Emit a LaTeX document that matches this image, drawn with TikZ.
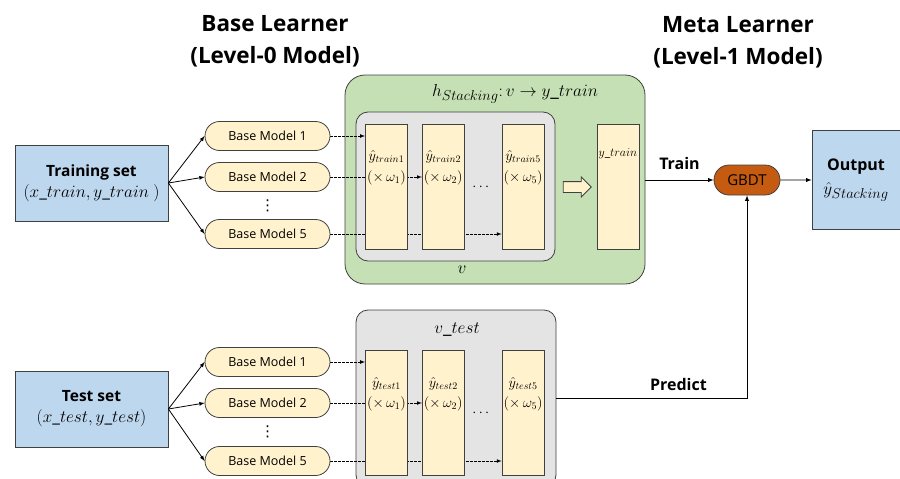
\documentclass[tikz,border=0pt]{standalone}
\usepackage{amsmath,amssymb}
\usepackage{fontspec}
\setmainfont{Open Sans}
\newfontfamily\symfont{DejaVu Sans}
\usetikzlibrary{positioning, shapes, arrows}
\tikzset{>=latex}
\definecolor{myblue}{RGB}{189, 215, 238}
\definecolor{myyellow}{RGB}{255, 242, 204}
\definecolor{mygreen}{RGB}{197, 224, 180}
\definecolor{mygray}{RGB}{228, 228, 228}
\definecolor{myorange}{RGB}{197, 90, 17}
\definecolor{myedge}{RGB}{64, 64, 64}
\pgfdeclarelayer{back}
\pgfdeclarelayer{mid}
\pgfsetlayers{back,mid,main}
\tikzset{
  setbox/.style={draw=myedge, fill=myblue, line width=0.8pt, minimum width=153pt, minimum height=76pt, align=center, inner sep=0pt, font=\fontsize{17}{21}\selectfont},
  basemodel/.style={draw=myedge, fill=myyellow, rounded rectangle, line width=0.8pt, minimum width=125pt, minimum height=29pt, inner sep=0pt, font=\fontsize{12.5}{14}\selectfont},
  colbox/.style={draw=myedge, fill=myyellow, line width=0.8pt, minimum width=42pt, minimum height=125pt, inner sep=0pt},
  collabel/.style={inner sep=0pt, font=\fontsize{14.5}{16}\selectfont},
  dasharrow/.style={->, line width=0.7pt, dash pattern=on 2.5pt off 1.5pt},
  titletext/.style={align=center, font=\fontsize{22.5}{32}\selectfont\bfseries},
  flowlabel/.style={font=\fontsize{16}{18}\selectfont\bfseries},
  mathlabel/.style={font=\fontsize{19}{22}\selectfont},
  vdotsnode/.style={inner sep=0pt, font=\symfont\fontsize{15}{15}\selectfont}
}

\begin{document}
\begin{tikzpicture}[x=1pt, y=-1pt]
\clip (0,0) rectangle (900,479);
\node[titletext] (lvl0) at (275,41) {Base Learner\\(Level-0 Model)};
\node[titletext] (lvl1) at (738,42) {Meta Learner\\(Level-1 Model)};

% training data
\node[setbox] (trainset) at (91.5,183) {{\fontsize{15.5}{21}\selectfont\bfseries Training set}\\$(x\_train, y\_train\ )$};
\foreach \i/\y in {1/136, 2/177, 5/234} {
  \node[basemodel] (tr\i) at (267.5,\y) {Base Model \i};
  \draw[->, line width=0.8pt] (trainset.east) -- (tr\i.west);
}
\node[vdotsnode] (trdots) at (267.5,206) {⋮};

\node[colbox] (ctr1) at (386.5,186.5) {};
\node[colbox, right=14pt of ctr1] (ctr2) {};
\node[colbox, right=37pt of ctr2] (ctr5) {};
\node[colbox, right=52pt of ctr5] (ytr) {};
\foreach \k in {1,2,5} {
  \node[collabel] at ([yshift=-33pt]ctr\k.north) {$\hat{y}_{train\k}$};
  \node[collabel] at ([yshift=-54pt]ctr\k.north) {$(\times\,\omega_{\k})$};
}
\node[collabel] (ctrdots) at (482,187) {$\cdots$};
\node[collabel, font=\fontsize{12}{13}\selectfont] at ([yshift=-30pt]ytr.north) {$y\_train$};
\node[single arrow, draw=myedge, fill=myyellow, line width=0.8pt, inner xsep=0pt, inner ysep=5pt, minimum height=28pt, single arrow head extend=4.5pt] (toy) at (574.5,187) {};

\begin{pgfonlayer}{back}
\node[draw=myedge, fill=mygreen, line width=0.8pt, rounded corners=20pt, minimum width=300pt, minimum height=209pt] (hbox) at (495,179.5) {};
\node[draw=myedge, fill=mygray, line width=0.8pt, rounded corners=12pt, minimum width=199pt, minimum height=149pt] (vbox) at (455.5,186.5) {};
\end{pgfonlayer}
\node[mathlabel] (hlabel) at (515,94) {$h_{Stacking}{:}\,v \rightarrow y\_train$};
\node[mathlabel] (vlabel) at (462,270) {$v$};

\begin{pgfonlayer}{mid}
\draw[dasharrow] (tr1.east) -- (tr1.east -| ctr1.west);
\draw[dasharrow] (tr2.east) -- (tr2.east -| ctr2.west);
\draw[dasharrow] (tr5.east) -- (tr5.east -| ctr5.west);
\end{pgfonlayer}

% meta learner
\node[rounded rectangle, draw=myedge, fill=myorange, line width=0.8pt, minimum width=66pt, minimum height=30pt, inner sep=0pt, font=\fontsize{15}{16}\selectfont] (gbdt) at (747,180) {GBDT};
\node[setbox, minimum width=88pt, minimum height=99pt, font=\fontsize{19}{24}\selectfont] (output) at (856,180) {{\fontsize{16}{24}\selectfont\bfseries Output}\\$\hat{y}_{Stacking}$};
\draw[->, line width=0.9pt] (gbdt.west -| hbox.east) -- node[flowlabel, above=7pt] {Train} (gbdt.west);
\draw[->, line width=0.9pt] (gbdt) -- (output);

% test data
\node[setbox] (testset) at (91.5,409) {{\fontsize{15.5}{21}\selectfont\bfseries Test set}\\$(x\_test, y\_test)$};
\foreach \i/\y in {1/362, 2/403, 5/461} {
  \node[basemodel] (te\i) at (267.5,\y) {Base Model \i};
  \draw[->, line width=0.8pt] (testset.east) -- (te\i.west);
}
\node[vdotsnode] (tedots) at (267.5,432) {⋮};

\node[colbox] (cte1) at (386.5,412.5) {};
\node[colbox, right=14pt of cte1] (cte2) {};
\node[colbox, right=37pt of cte2] (cte5) {};
\foreach \k in {1,2,5} {
  \node[collabel] at ([yshift=-34pt]cte\k.north) {$\hat{y}_{test\k}$};
  \node[collabel] at ([yshift=-54pt]cte\k.north) {$(\times\,\omega_{\k})$};
}
\node[collabel] (ctedots) at (482,413) {$\cdots$};

\begin{pgfonlayer}{back}
\node[draw=myedge, fill=mygray, line width=0.8pt, rounded corners=12pt, minimum width=200pt, minimum height=177pt] (vtest) at (456,398.5) {};
\end{pgfonlayer}
\node[mathlabel] (vtlabel) at (457,330) {$v\_test$};

\begin{pgfonlayer}{mid}
\draw[dasharrow] (te1.east) -- (te1.east -| cte1.west);
\draw[dasharrow] (te2.east) -- (te2.east -| cte2.west);
\draw[dasharrow] (te5.east) -- (te5.east -| cte5.west);
\end{pgfonlayer}

\draw[->, line width=0.9pt] (vtest.east) -| node[flowlabel, pos=0.32, above=4pt] {Predict} (gbdt.south);
\end{tikzpicture}
\end{document}
